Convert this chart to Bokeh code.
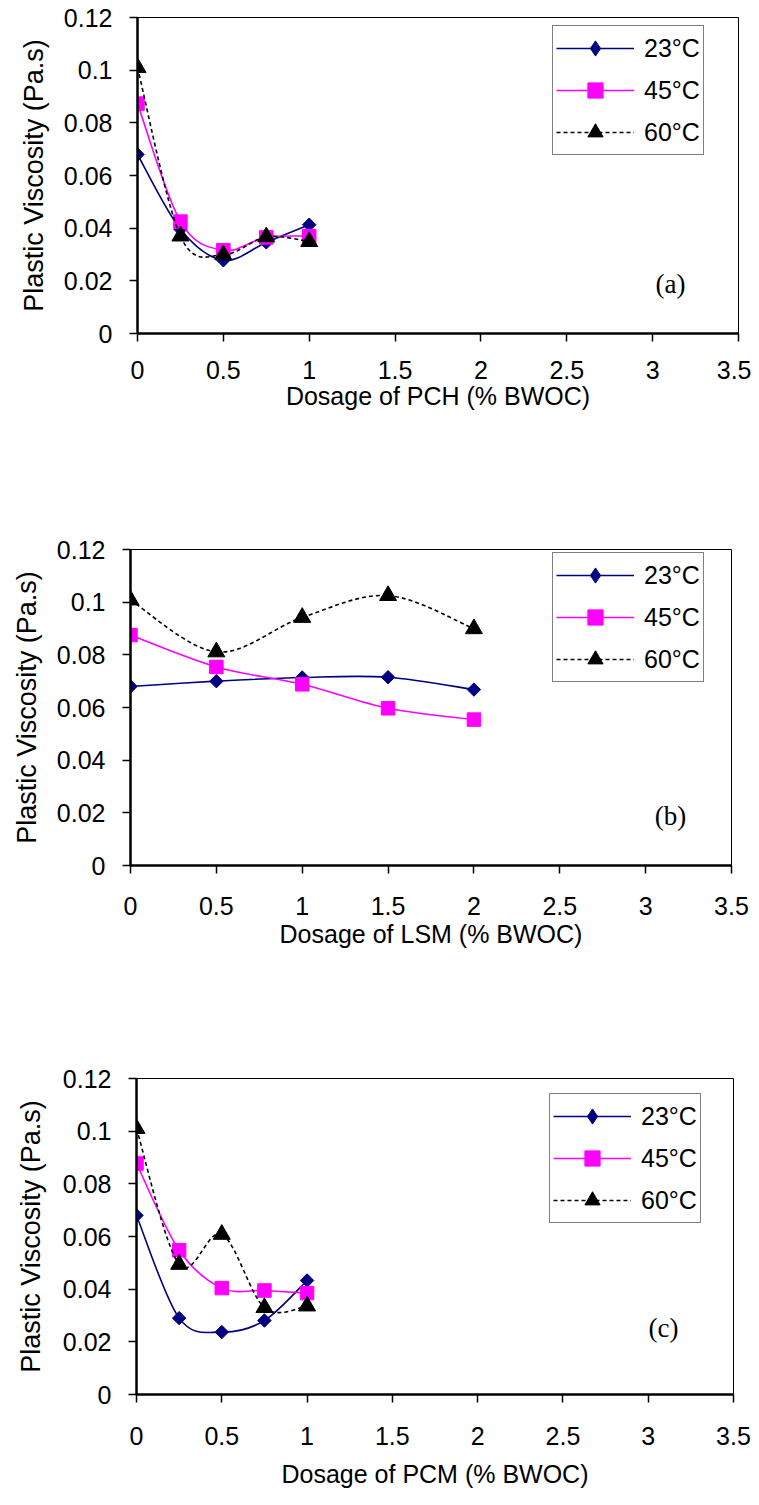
from bokeh.plotting import figure
from bokeh.models import Range1d, FixedTicker, Legend, LegendItem, Label, ColumnDataSource
from bokeh.layouts import column
from bokeh.embed import file_html
from bokeh.resources import INLINE
import math

# ---------------- data ----------------
x_tick_values = [0, 0.5, 1, 1.5, 2, 2.5, 3, 3.5]
x_tick_labels = ["0", "0.5", "1", "1.5", "2", "2.5", "3", "3.5"]
y_tick_values = [0, 0.02, 0.04, 0.06, 0.08, 0.1, 0.12]
y_tick_labels = ["0", "0.02", "0.04", "0.06", "0.08", "0.1", "0.12"]
series_names = ["23°C", "45°C", "60°C"]

dosage_pch = [0, 0.25, 0.5, 0.75, 1.0]
pch_23 = [0.068, 0.0396, 0.0278, 0.0346, 0.0413]
pch_45 = [0.0873, 0.0425, 0.0316, 0.0365, 0.037]
pch_60 = [0.101, 0.037, 0.0299, 0.0367, 0.0349]

dosage_lsm = [0, 0.5, 1.0, 1.5, 2.0]
lsm_23 = [0.068, 0.070, 0.0714, 0.0715, 0.0668]
lsm_45 = [0.0875, 0.0754, 0.0688, 0.0597, 0.0554]
lsm_60 = [0.1008, 0.0811, 0.0942, 0.1025, 0.0899]

dosage_pcm = [0, 0.25, 0.5, 0.75, 1.0]
pcm_23 = [0.068, 0.029, 0.0237, 0.0281, 0.0433]
pcm_45 = [0.0877, 0.0548, 0.0404, 0.0395, 0.0385]
pcm_60 = [0.101, 0.0494, 0.0608, 0.033, 0.0336]

x_titles = ["Dosage of PCH (% BWOC)", "Dosage of LSM (% BWOC)", "Dosage of PCM (% BWOC)"]
panel_tags = ["(a)", "(b)", "(c)"]
y_title = "Plastic Viscosity (Pa.s)"

# ---------------- styles / layout ----------------
COLORS = ["#000080", "#FF00FF", "#000000"]
DASHES = ["solid", "solid", "4 3"]
# plot markers: (marker, size, angle); legend proxies use Bokeh's own sizing
MARKERS = [("square", 9.5, math.pi / 4), ("square", 13.5, 0.0), ("triangle", 17, 0.0)]
LEGEND_MARKERS = ["diamond", None, None]
FONT = "Liberation Sans"

panels = [
    dict(x=dosage_pch, ys=[pch_23, pch_45, pch_60], height=523, top=17, bottom=190,
         left=137, right=13, legend=(415, 178), tag=(533, 50), lab_so=19, tit_so=0,
         ytit_so=12),
    dict(x=dosage_lsm, ys=[lsm_23, lsm_45, lsm_60], height=530, top=26, bottom=188,
         left=130, right=20, legend=(422, 183), tag=(540, 50), lab_so=23, tit_so=2,
         ytit_so=12),
    dict(x=dosage_pcm, ys=[pcm_23, pcm_45, pcm_60], height=444, top=25, bottom=103,
         left=136, right=18, legend=(413, 171), tag=(527, 67), lab_so=24, tit_so=12,
         ytit_so=14),
]


def smooth_segments(xs, ys):
    """Bezier control points (Catmull-Rom style, like a spreadsheet's smoothed line)."""
    n = len(xs)
    d = dict(x0=[], y0=[], x1=[], y1=[], cx0=[], cy0=[], cx1=[], cy1=[])
    for i in range(n - 1):
        xp, yp = (xs[i - 1], ys[i - 1]) if i > 0 else (xs[i], ys[i])
        xn, yn = (xs[i + 2], ys[i + 2]) if i + 2 < n else (xs[i + 1], ys[i + 1])
        d["x0"].append(xs[i]); d["y0"].append(ys[i])
        d["x1"].append(xs[i + 1]); d["y1"].append(ys[i + 1])
        d["cx0"].append(xs[i] + (xs[i + 1] - xp) / 6.0)
        d["cy0"].append(ys[i] + (ys[i + 1] - yp) / 6.0)
        d["cx1"].append(xs[i + 1] - (xn - xs[i]) / 6.0)
        d["cy1"].append(ys[i + 1] - (yn - ys[i]) / 6.0)
    return d


figs = []
for k, cfg in enumerate(panels):
    p = figure(width=751, height=cfg["height"],
               x_range=Range1d(0, 3.5), y_range=Range1d(0, 0.12),
               output_backend="svg", toolbar_location=None,
               min_border_left=cfg["left"], min_border_right=cfg["right"],
               min_border_top=cfg["top"], min_border_bottom=cfg["bottom"])
    p.xgrid.visible = False
    p.ygrid.visible = False
    p.outline_line_color = "black"
    p.outline_line_width = 1
    p.background_fill_color = "white"
    p.border_fill_color = "white"

    p.xaxis.ticker = FixedTicker(ticks=x_tick_values)
    p.xaxis.major_label_overrides = dict(zip(x_tick_values, x_tick_labels))
    p.yaxis.ticker = FixedTicker(ticks=y_tick_values)
    p.yaxis.major_label_overrides = dict(zip(y_tick_values, y_tick_labels))
    p.xaxis.axis_label = x_titles[k]
    p.yaxis.axis_label = y_title
    for ax in (p.xaxis[0], p.yaxis[0]):
        ax.axis_line_width = 2.5
        ax.axis_line_color = "black"
        ax.major_tick_out = 8
        ax.major_tick_in = 0
        ax.minor_tick_out = 0
        ax.minor_tick_in = 0
        ax.major_tick_line_width = 1.5
        ax.major_tick_line_color = "black"
        ax.major_label_text_font = FONT
        ax.major_label_text_font_size = "25px"
        ax.major_label_text_color = "black"
        ax.axis_label_text_font = FONT
        ax.axis_label_text_font_style = "normal"
        ax.axis_label_text_color = "black"
    p.xaxis.major_label_standoff = cfg["lab_so"]
    p.xaxis.axis_label_standoff = cfg["tit_so"]
    p.xaxis.axis_label_text_font_size = "25px"
    p.yaxis.major_label_standoff = 17
    p.yaxis.axis_label_standoff = cfg["ytit_so"]
    p.yaxis.axis_label_text_font_size = "27px"

    items = []
    for s in range(3):
        src = ColumnDataSource(smooth_segments(cfg["x"], cfg["ys"][s]))
        br = p.bezier(x0="x0", y0="y0", x1="x1", y1="y1", cx0="cx0", cy0="cy0",
                      cx1="cx1", cy1="cy1", source=src,
                      line_color=COLORS[s], line_width=1.6, line_dash=DASHES[s])
        mk, sz, ang = MARKERS[s]
        sr = p.scatter(cfg["x"], cfg["ys"][s], marker=mk, size=sz, angle=ang,
                       fill_color=COLORS[s], line_color=COLORS[s], line_width=1)
        if LEGEND_MARKERS[s]:
            # zero-size proxy: invisible in the plot, sized by the legend itself
            lr = p.scatter(cfg["x"], cfg["ys"][s], marker=LEGEND_MARKERS[s], size=0,
                           fill_color=COLORS[s], line_color=COLORS[s], line_width=1)
        else:
            lr = sr
        items.append(LegendItem(label=series_names[s], renderers=[br, lr]))

    leg = Legend(items=items, location=cfg["legend"], margin=0, padding=3,
                 spacing=4, label_height=38, glyph_height=38, glyph_width=78,
                 label_standoff=10, label_text_font=FONT, label_text_font_size="25px",
                 label_text_color="black", border_line_color="black",
                 border_line_width=1.5, background_fill_color="white",
                 background_fill_alpha=1.0)
    p.add_layout(leg)

    tx, ty = cfg["tag"]
    p.add_layout(Label(x=tx, y=ty, x_units="screen", y_units="screen", text=panel_tags[k],
                       text_font="Liberation Serif", text_font_size="27px",
                       text_align="center", text_baseline="middle", text_color="black"))
    figs.append(p)

# each figure wrapped on its own so that their frames are not aligned to each other
layout = column(*[column(f, spacing=0) for f in figs], spacing=0)
open("out.html", "w").write(file_html(layout, INLINE))
